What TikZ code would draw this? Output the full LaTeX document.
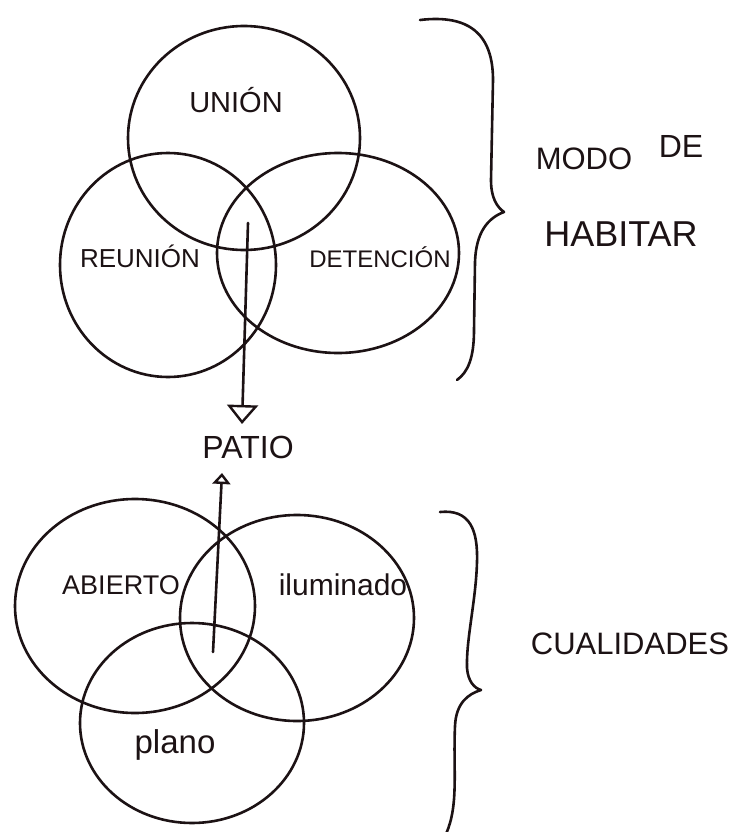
\documentclass[tikz,border=0pt]{standalone}
\usepackage{fontspec}
\setmainfont{Liberation Sans}
\usetikzlibrary{arrows.meta}
\definecolor{inkc}{HTML}{1C1214}
\begin{document}
\begin{tikzpicture}[x=1pt,y=-1pt,
  pen/.style={line width=2.6pt, line cap=round, line join=round, draw=inkc},
  lbl/.style={inner sep=0pt, text=inkc, font=\fontsize{#1}{#1}\selectfont}
]
\fill[white] (0,0) rectangle (735,832);
\useasboundingbox (0,0) rectangle (735,832);

% ---------- top Venn: modo de habitar ----------
\draw[pen] (244,138) ellipse [x radius=116, y radius=112];
\draw[pen] (168,265) ellipse [x radius=108, y radius=112];
\draw[pen] (338,253) ellipse [x radius=121, y radius=100];

\node[lbl=29] (union) at (236,100) {UNIÓN};
\node[lbl=26] (reunion) at (140,256) {REUNIÓN};
\node[lbl=24] (detencion) at (380,257) {DETENCIÓN};

% brace top
\draw[pen] (420,20) .. controls (470,14) and (493,35) .. (493,80)
  -- (491,180) .. controls (491,198) and (497,207) .. (504,212)
  .. controls (488,218) and (476,232) .. (475,262)
  -- (474,330) .. controls (474,358) and (468,372) .. (457,380);

\node[lbl=31] (modo) at (584,159) {MODO};
\node[lbl=32] (de) at (681,146) {DE};
\node[lbl=36] (habitar) at (621,234) {HABITAR};

% arrow to patio
\coordinate (s1) at (248,223);
\coordinate (t1) at (242,424);
\node[lbl=32] (patio) at (248,447) {PATIO};
\draw[pen, -{Triangle[open, length=19pt, width=31pt, line width=2.4pt]}] (s1) -- (t1);

% ---------- bottom Venn: cualidades ----------
\draw[pen] (135,606) ellipse [x radius=120, y radius=107];
\draw[pen] (297,618) ellipse [x radius=117, y radius=103];
\draw[pen] (192,723) ellipse [x radius=112, y radius=100];

\node[lbl=27] (abierto) at (121,585) {ABIERTO};
\node[lbl=30] (iluminado) at (343,585) {iluminado};
\node[lbl=33] (plano) at (175,745) {plano};

\coordinate (s2) at (213,652);
\coordinate (t2) at (222,473);
\draw[pen, -{Triangle[open, length=11pt, width=18pt, line width=2.4pt]}] (s2) -- (t2);

% brace bottom
\draw[pen] (440,512) .. controls (470,509) and (478,530) .. (477,562)
  .. controls (476,600) and (466,640) .. (467,668)
  .. controls (468,681) and (474,688) .. (481,690)
  .. controls (468,694) and (456,703) .. (455,726)
  .. controls (453,770) and (459,805) .. (446,834);

\node[lbl=31] (cualidades) at (630,644) {CUALIDADES};
\end{tikzpicture}
\end{document}
